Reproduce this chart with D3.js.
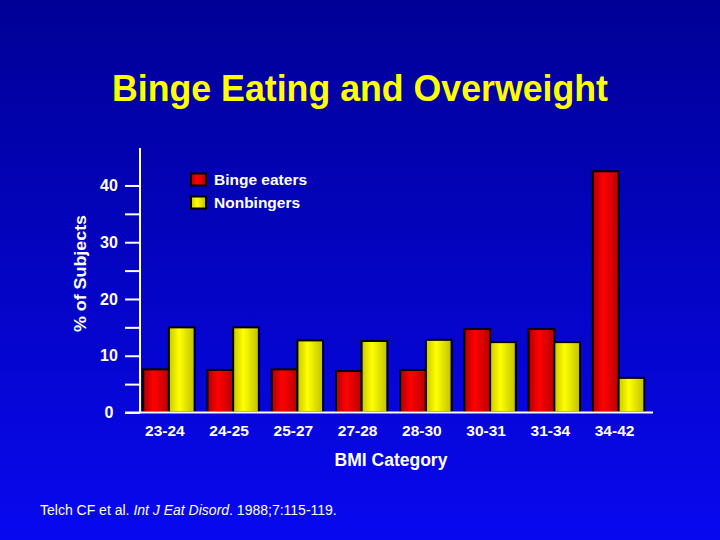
<!DOCTYPE html>
<html><head><meta charset="utf-8">
<script src="https://cdn.jsdelivr.net/npm/d3@7"></script>
<style>html,body{margin:0;padding:0;background:#0000c0;}svg{display:block;}</style>
</head><body>
<script>
const categories = ["23-24","24-25","25-27","27-28","28-30","30-31","31-34","34-42"];
const seriesNames = ["Binge eaters","Nonbingers"];
const bingeEaters = [7.6, 7.5, 7.6, 7.3, 7.5, 14.7, 14.7, 42.5];
const nonbingers = [15.0, 15.0, 12.7, 12.6, 12.8, 12.4, 12.4, 6.1];
const majorTicks = [0, 10, 20, 30, 40];
const minorTicks = [5, 15, 25, 35];

const W = 720, H = 540;
const FONT = "Liberation Sans, Arial, sans-serif";
const svg = d3.select("body").append("svg").attr("width", W).attr("height", H);
const defs = svg.append("defs");
const bg = defs.append("linearGradient").attr("id","bg").attr("x1",0).attr("y1",0).attr("x2",0).attr("y2",1);
bg.append("stop").attr("offset","0%").attr("stop-color","#000096");
bg.append("stop").attr("offset","100%").attr("stop-color","#0808f0");
const gR = defs.append("linearGradient").attr("id","gR").attr("x1",0).attr("y1",0).attr("x2",1).attr("y2",0);
gR.append("stop").attr("offset","0%").attr("stop-color","#b00000");
gR.append("stop").attr("offset","40%").attr("stop-color","#ff0000");
gR.append("stop").attr("offset","100%").attr("stop-color","#b80000");
const gY = defs.append("linearGradient").attr("id","gY").attr("x1",0).attr("y1",0).attr("x2",1).attr("y2",0);
gY.append("stop").attr("offset","0%").attr("stop-color","#c8c800");
gY.append("stop").attr("offset","40%").attr("stop-color","#ffff00");
gY.append("stop").attr("offset","100%").attr("stop-color","#c0c000");
const fills = ["url(#gR)","url(#gY)"];

svg.append("rect").attr("width",W).attr("height",H).attr("fill","url(#bg)");

svg.append("text").attr("x",360).attr("y",101).attr("text-anchor","middle")
  .attr("font-family",FONT).attr("font-weight","bold")
  .attr("font-size",37).attr("fill","#ffff00")
  .attr("textLength",496).attr("lengthAdjust","spacingAndGlyphs")
  .text("Binge Eating and Overweight");

const y = d3.scaleLinear().domain([0, 46.6]).range([412.5, 148]);
const x0 = d3.scaleBand().domain(categories).range([140, 647.5]).paddingInner(0.2).paddingOuter(0.05);
const x1 = d3.scaleBand().domain(seriesNames).range([0, x0.bandwidth()]);

const data = categories.map((c,i)=>({cat:c, vals:[bingeEaters[i], nonbingers[i]]}));

const g = svg.append("g");
const groups = g.selectAll("g.grp").data(data).join("g").attr("class","grp")
  .attr("transform", d=>`translate(${x0(d.cat)},0)`);
groups.selectAll("rect").data(d=>d.vals.map((v,j)=>({v, s:seriesNames[j], j})))
  .join("rect")
  .attr("x", d=>x1(d.s)).attr("width", x1.bandwidth())
  .attr("y", d=>y(d.v)).attr("height", d=>y(0)-y(d.v))
  .attr("fill", d=>fills[d.j]).attr("stroke","#000").attr("stroke-width",2);

// y axis
const axisG = svg.append("g").attr("transform","translate(140,0)");
axisG.call(d3.axisLeft(y).tickValues(majorTicks.concat(minorTicks)).tickSize(15).tickFormat(""));
axisG.select(".domain").remove();
axisG.selectAll(".tick line").attr("stroke","#fff").attr("stroke-width",2);
axisG.append("line").attr("x1",0).attr("x2",0).attr("y1",148).attr("y2",y(0)).attr("stroke","#fff").attr("stroke-width",2);
// baseline
svg.append("line").attr("x1",125).attr("x2",653).attr("y1",y(0)).attr("y2",y(0)).attr("stroke","#fff").attr("stroke-width",2);

svg.append("g").selectAll("text").data(majorTicks).join("text")
  .attr("x",109).attr("y",d=>y(d)).attr("dy","0.35em").attr("text-anchor","middle")
  .attr("font-family",FONT).attr("font-weight","bold")
  .attr("font-size",16).attr("fill","#fff").text(d=>d);

svg.append("text").attr("transform","translate(86,273.5) rotate(-90)").attr("text-anchor","middle")
  .attr("font-family",FONT).attr("font-weight","bold")
  .attr("font-size",17).attr("fill","#fff")
  .attr("textLength",117).attr("lengthAdjust","spacingAndGlyphs")
  .text("% of Subjects");

// x labels
svg.append("g").selectAll("text").data(categories).join("text")
  .attr("x",d=>x0(d)+x0.bandwidth()/2-4).attr("y",436).attr("text-anchor","middle")
  .attr("font-family",FONT).attr("font-weight","bold")
  .attr("font-size",15.5).attr("fill","#fff").text(d=>d);

svg.append("text").attr("x",391).attr("y",466).attr("text-anchor","middle")
  .attr("font-family",FONT).attr("font-weight","bold")
  .attr("font-size",17.5).attr("fill","#fff").text("BMI Category");

// legend
const leg = svg.append("g").selectAll("g").data(seriesNames).join("g")
  .attr("transform",(d,i)=>`translate(191,${173.5+i*23})`);
leg.append("rect").attr("width",15).attr("height",12).attr("fill",(d,i)=>fills[i]).attr("stroke","#000").attr("stroke-width",2);
leg.append("text").attr("x",23).attr("y",6.5).attr("dy","0.35em")
  .attr("font-family",FONT).attr("font-weight","bold").attr("font-size",15.5)
  .attr("fill","#fff").text(d=>d);

// citation
const cit = svg.append("text").attr("x",40).attr("y",515)
  .attr("font-family",FONT).attr("font-size",14).attr("fill","#fff");
cit.append("tspan").text("Telch CF et al. ");
cit.append("tspan").attr("font-style","italic").text("Int J Eat Disord");
cit.append("tspan").text(". 1988;7:115-119.");
</script>
</body></html>
